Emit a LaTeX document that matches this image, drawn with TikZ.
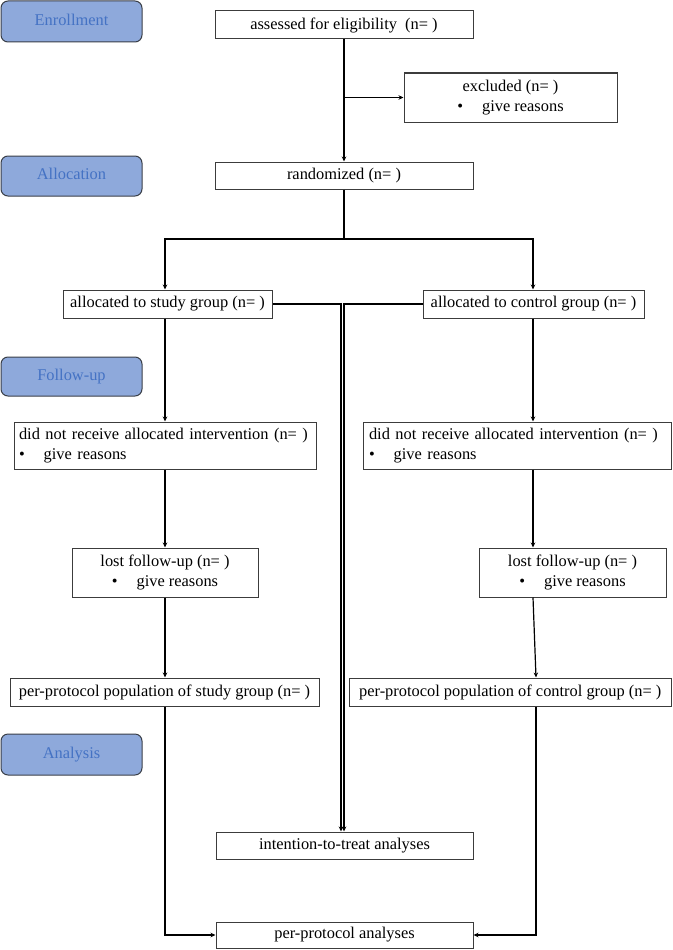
\documentclass[tikz,border=0pt]{standalone}
\usepackage{fontspec}
\setmainfont{Liberation Serif}
\usetikzlibrary{arrows.meta,calc}
\definecolor{lblfill}{HTML}{8EA9DB}
\definecolor{lbltext}{HTML}{4472C4}
\definecolor{lbldraw}{HTML}{3A3F48}
\definecolor{boxdraw}{HTML}{3C3C3C}
\begin{document}
\begin{tikzpicture}[x=1pt,y=-1pt,
  every node/.style={font=\fontsize{16.4}{20.5}\selectfont},
  box/.style={draw=boxdraw, line width=1pt, fill=white, inner sep=0pt, align=center},
  wide/.style={box, text width=#1, align=left},
  lbl/.style={draw=lbldraw, line width=1pt, fill=lblfill, rounded corners=7pt, text=lbltext, minimum width=141pt, minimum height=40pt, inner sep=0pt},
  conn/.style={line width=1.2pt, -{Stealth[length=5pt,width=4.5pt]}},
  plain/.style={line width=1.2pt}]
\useasboundingbox (0,0) rectangle (672,950);
% stage labels
\node[lbl, minimum height=41pt] (enr) at (71.5,21.5) {\raisebox{3.5pt}{Enrollment}};
\node[lbl] (alc) at (71.5,176) {\raisebox{3.5pt}{Allocation}};
\node[lbl, minimum height=39pt] (fol) at (71.5,376.5) {\raisebox{3.5pt}{Follow-up}};
\node[lbl, minimum height=41pt] (ana) at (71.5,754.5) {\raisebox{3.5pt}{Analysis}};
% boxes
\node[box, minimum width=258pt, minimum height=28pt] (assess) at (344,25) {assessed for eligibility\ \ (n=~)};
\node[box, minimum width=213pt, minimum height=49pt] (excl) at (510.5,97.5) {excluded (n=~)\\\textbullet\hspace{19pt}give reasons};
\node[box, minimum width=258pt, minimum height=27pt] (rand) at (344,175.5) {randomized (n=~)};
\node[box, minimum width=209pt, minimum height=28pt] (allocS) at (167.5,304) {allocated to study group (n=~)};
\node[box, minimum width=221pt, minimum height=28pt] (allocC) at (533.5,304) {allocated to control group (n=~)};
\node[wide=292pt, minimum width=302pt, minimum height=47pt] (dnrS) at (165,445.5) {did not receive allocated intervention (n=~)\\\textbullet\hspace{19pt}give reasons};
\node[wide=296pt, minimum width=308pt, minimum height=47pt] (dnrC) at (517,445.5) {did not receive allocated intervention (n=~)\\\textbullet\hspace{19pt}give reasons};
\node[box, minimum width=186pt, minimum height=49pt] (lostS) at (165,572.5) {lost follow-up (n=~)\\\textbullet\hspace{19pt}give reasons};
\node[box, minimum width=187pt, minimum height=49pt] (lostC) at (572.5,572.5) {lost follow-up (n=~)\\\textbullet\hspace{19pt}give reasons};
\node[box, minimum width=309pt, minimum height=28pt] (ppS) at (164.5,692) {per-protocol population of study group (n=~)};
\node[box, minimum width=322pt, minimum height=28pt] (ppC) at (510.25,692) {per-protocol population of control group (n=~)};
\node[box, minimum width=257pt, minimum height=27pt] (itt) at (344.5,845.5) {intention-to-treat analyses};
\node[box, minimum width=257pt, minimum height=26pt] (ppa) at (344.5,935) {per-protocol analyses};
% helper coordinates
\coordinate (Lx) at (165,0);
\coordinate (Rx) at (533,0);
\coordinate (Rx2) at (536,0);
\coordinate (Ia) at (341,0);
\coordinate (Ib) at (344,0);
\coordinate (br) at (344,239);
% connectors
\draw[conn] (assess.south) -- (rand.north);
\draw[conn] (assess.south |- excl.west) -- (excl.west);
\draw[plain] (rand.south) -- (br);
\draw[conn] (br) -| (allocS.north -| Lx);
\draw[conn] (br) -| (allocC.north -| Rx);
\draw[conn] (allocS.south -| Lx) -- (dnrS.north -| Lx);
\draw[conn] (dnrS.south -| Lx) -- (lostS.north -| Lx);
\draw[conn] (lostS.south -| Lx) -- (ppS.north -| Lx);
\draw[conn] (ppS.south -| Lx) |- (ppa.west);
\draw[conn] (allocC.south -| Rx) -- (dnrC.north -| Rx);
\draw[conn] (dnrC.south -| Rx) -- (lostC.north -| Rx);
\draw[conn] (lostC.south -| Rx) -- (ppC.north -| Rx2);
\draw[conn] (ppC.south -| Rx2) |- (ppa.east);
\draw[conn] (allocS.east) -| (itt.north -| Ia);
\draw[conn] (allocC.west) -| (itt.north -| Ib);
\end{tikzpicture}
\end{document}
